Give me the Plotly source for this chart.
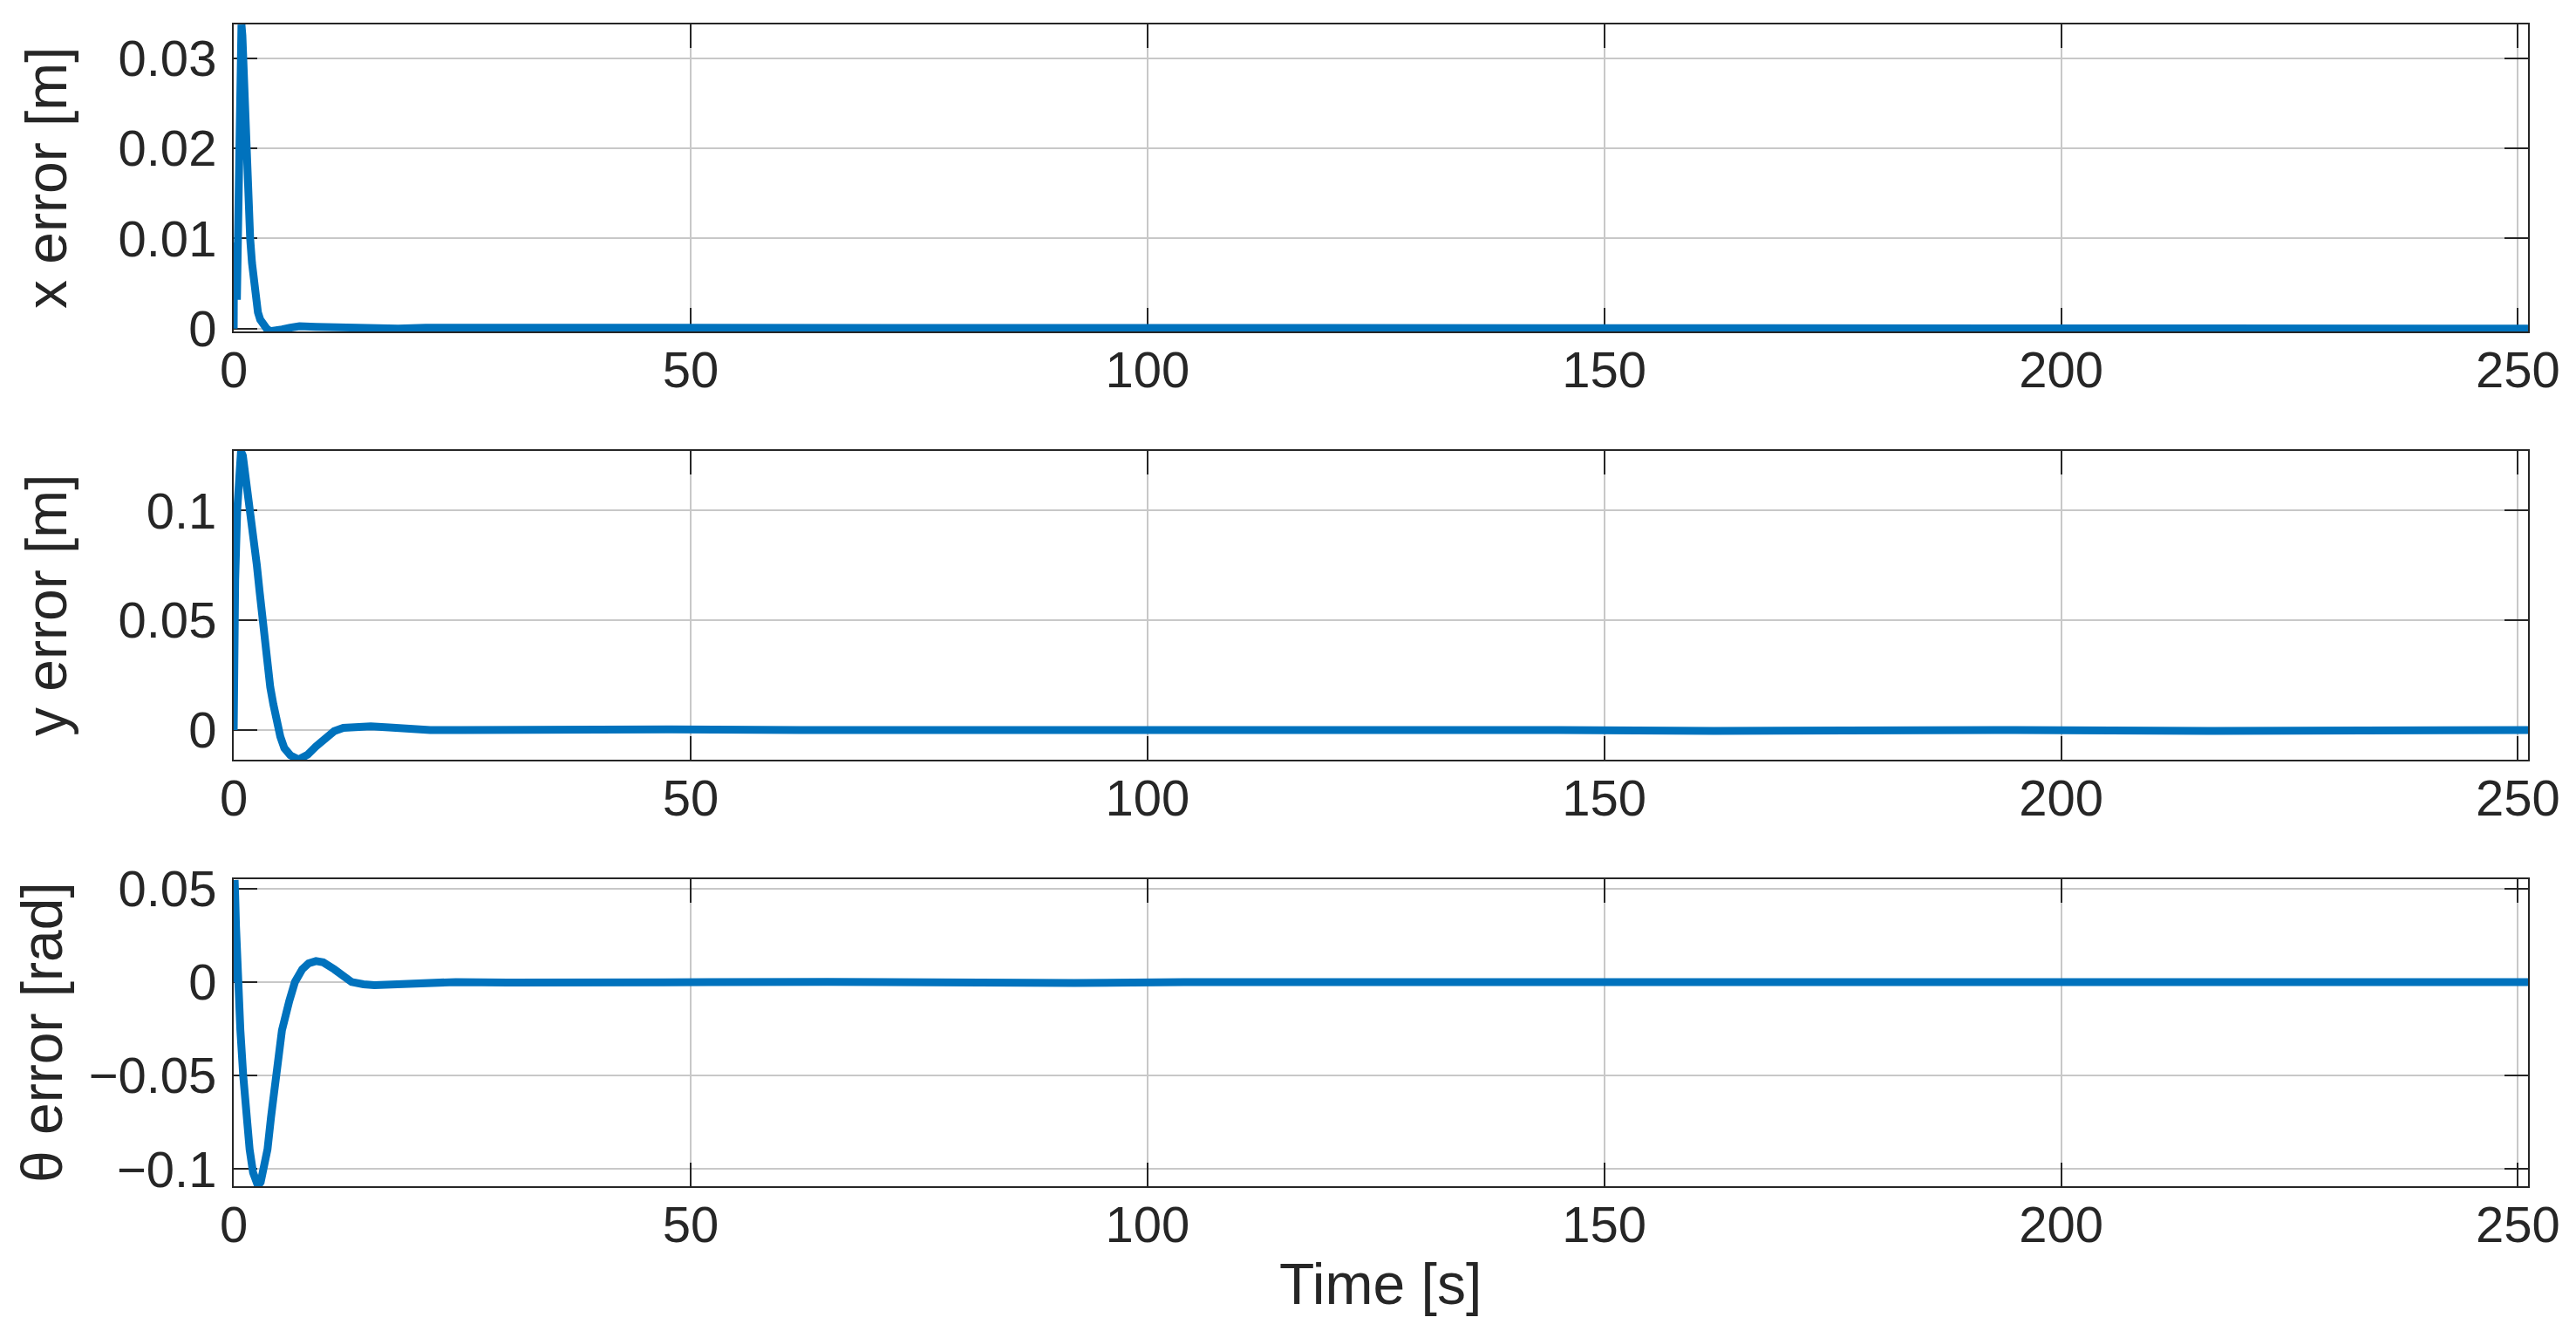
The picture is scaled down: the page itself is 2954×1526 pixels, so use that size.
import plotly.graph_objects as go

# time samples and error values
t_x = [0, 0.03, 0.12, 0.2, 0.35, 0.45, 0.6, 0.72, 0.85, 0.95, 1.1, 1.36, 1.6, 1.8, 2.0, 2.2,
       2.45, 2.65, 2.9, 3.2, 3.6, 4.0, 4.6, 5.3, 6.2, 7.2, 9.0, 11.6, 14.8, 18, 21, 24, 27,
       60, 100, 140, 143, 146, 149, 152, 200, 251.1]
x_err = [0, 0.0095, 0.0062, 0.0088, 0.0032, 0.0085, 0.0195, 0.027, 0.0337, 0.0325, 0.0285,
         0.0195, 0.0135, 0.0100, 0.0073, 0.0050, 0.0030, 0.0018, 0.0010, 0.0005, 0.0,
         -0.0003, -0.0003, -0.0001, 0.0001, 0.00025, 0.0002, 0.0001, 0.0, 0.0, 0.0001,
         0.0001, 0.0, 0.0, 0.0, 0.0, 0.0001, 0.0001, 0.0001, 0.0, 0.0, 0.0]

t_y = [0, 0.03, 0.16, 0.38, 0.6, 0.8, 1.0, 1.33, 1.6, 1.87, 2.2, 2.53, 2.85, 3.16, 3.45, 3.7,
       4.0, 4.34, 4.75, 5.1, 5.54, 6.2, 7.1, 8.1, 9.0, 10.0, 11.0, 12.0, 13.5, 15.0, 17.0,
       19.0, 21.5, 25, 35, 48, 62, 75, 88, 100, 115, 130, 145, 162, 178, 195, 216, 235, 251.1]
y_err = [0, 0.030, 0.0686, 0.100, 0.1216, 0.1270, 0.1250, 0.115, 0.1075, 0.100, 0.0880,
         0.0752, 0.0625, 0.050, 0.0390, 0.0289, 0.0195, 0.0117, 0.0030, -0.0030, -0.0082,
         -0.0115, -0.0134, -0.0112, -0.0075, -0.0035, -0.0005, 0.0010, 0.0017, 0.0017,
         0.0012, 0.0005, 0.0, 0.0, 0.0004, 0.0003, 0.0, 0.0001, 0.0004, 0.0003, 0.0, 0.0,
         0.0, -0.0004, -0.0001, 0.0, -0.0004, -0.0001, 0.0]

t_th = [0, 0.02, 0.04, 0.06, 0.08, 0.1, 0.16, 0.25, 0.36, 0.47, 0.73, 1.04, 1.36, 1.74, 2.12,
        2.4, 2.66, 2.95, 3.23, 3.7, 4.08, 4.59, 5.28, 6.08, 6.7, 7.5, 8.2, 9.0, 9.8, 11.0,
        12.9, 14.2, 15.4, 17.9, 21.1, 24.3, 30, 40, 52, 65, 80, 92, 104, 130, 150, 165, 180,
        195, 210, 220, 235, 251.1]
th_err = [0, 0.030, 0.005, 0.032, 0.010, 0.0545, 0.046, 0.030, 0.014, 0.0, -0.0258, -0.050,
          -0.0724, -0.0894, -0.1019, -0.1070, -0.1090, -0.1070, -0.1019, -0.0894, -0.0724,
          -0.050, -0.0258, -0.0102, 0.0, 0.0068, 0.0100, 0.0112, 0.0105, 0.0068, 0.0,
          -0.0012, -0.0017, -0.0012, -0.0006, 0.0, -0.0003, -0.0005, -0.0001, 0.0001,
          -0.0004, -0.0005, -0.0001, 0.0, 0.0002, 0.0005, 0.0002, 0.0, 0.0003, 0.0005,
          0.0001, 0.0]

x_ticks = [0, 50, 100, 150, 200, 250]
x_ticktext = ['0', '50', '100', '150', '200', '250']
yx_ticks = [0, 0.01, 0.02, 0.03]
yx_ticktext = ['0', '0.01', '0.02', '0.03']
yy_ticks = [0, 0.05, 0.1]
yy_ticktext = ['0', '0.05', '0.1']
yth_ticks = [-0.1, -0.05, 0, 0.05]
yth_ticktext = ['\u22120.1', '\u22120.05', '0', '0.05']

blue = '#0072BD'
dark = '#262626'
grid = '#c8c8c8'
font = 'Liberation Sans, Arial, Helvetica, sans-serif'

fig = go.Figure()
fig.add_trace(go.Scatter(x=t_x, y=x_err, mode='lines', line=dict(color=blue, width=9),
                         xaxis='x', yaxis='y', cliponaxis=False, showlegend=False))
fig.add_trace(go.Scatter(x=t_y, y=y_err, mode='lines', line=dict(color=blue, width=9),
                         xaxis='x2', yaxis='y2', cliponaxis=False, showlegend=False))
fig.add_trace(go.Scatter(x=t_th, y=th_err, mode='lines', line=dict(color=blue, width=9),
                         xaxis='x3', yaxis='y3', cliponaxis=False, showlegend=False))

common = dict(showline=True, linecolor=dark, linewidth=2, mirror='ticks',
              ticks='inside', ticklen=27, tickwidth=2, tickcolor=dark,
              showgrid=True, gridcolor=grid, gridwidth=2, zeroline=False, automargin=False,
              layer='below traces', tickfont=dict(family=font, size=58, color=dark))

x_dom = [260 / 2954, 2891 / 2954]
x_range = [0, 251.1]
xa = dict(common, domain=x_dom, range=x_range, tickvals=x_ticks, ticktext=x_ticktext,
          ticklabelstandoff=-8)

fig.update_layout(
    width=2954, height=1526,
    margin=dict(l=0, r=0, t=0, b=0),
    paper_bgcolor='white', plot_bgcolor='white',
    font=dict(family=font, color=dark),
    xaxis=dict(xa, anchor='y'),
    xaxis2=dict(xa, anchor='y2'),
    xaxis3=dict(xa, anchor='y3'),
    yaxis=dict(common, domain=[1 - 372 / 1526, 1 - 20 / 1526], range=[-0.00032, 0.03374],
               tickvals=yx_ticks, ticktext=yx_ticktext, anchor='x', ticklabelstandoff=6),
    yaxis2=dict(common, domain=[1 - 863 / 1526, 1 - 509 / 1526], range=[-0.01351, 0.12715],
                tickvals=yy_ticks, ticktext=yy_ticktext, anchor='x2', ticklabelstandoff=6),
    yaxis3=dict(common, domain=[1 - 1352 / 1526, 1 - 1000 / 1526], range=[-0.10916, 0.05497],
                tickvals=yth_ticks, ticktext=yth_ticktext, anchor='x3', ticklabelstandoff=6),
)

title_font = dict(family=font, size=66, color=dark)
fig.add_annotation(text='x error [m]', xref='paper', yref='paper', x=45 / 2954,
                   y=1 - 196 / 1526, textangle=-90, showarrow=False, font=title_font,
                   xanchor='center', yanchor='middle')
fig.add_annotation(text='y error [m]', xref='paper', yref='paper', x=45 / 2954,
                   y=1 - 686 / 1526, textangle=-90, showarrow=False, font=title_font,
                   xanchor='center', yanchor='middle')
fig.add_annotation(text='\u03b8 error [rad]', xref='paper', yref='paper', x=40 / 2954,
                   y=1 - 1176 / 1526, textangle=-90, showarrow=False, font=title_font,
                   xanchor='center', yanchor='middle')
fig.add_annotation(text='Time [s]', xref='paper', yref='paper', x=1575 / 2954,
                   y=1 - 1464 / 1526, showarrow=False, font=title_font,
                   xanchor='center', yanchor='middle')

fig.write_html("out.html")
